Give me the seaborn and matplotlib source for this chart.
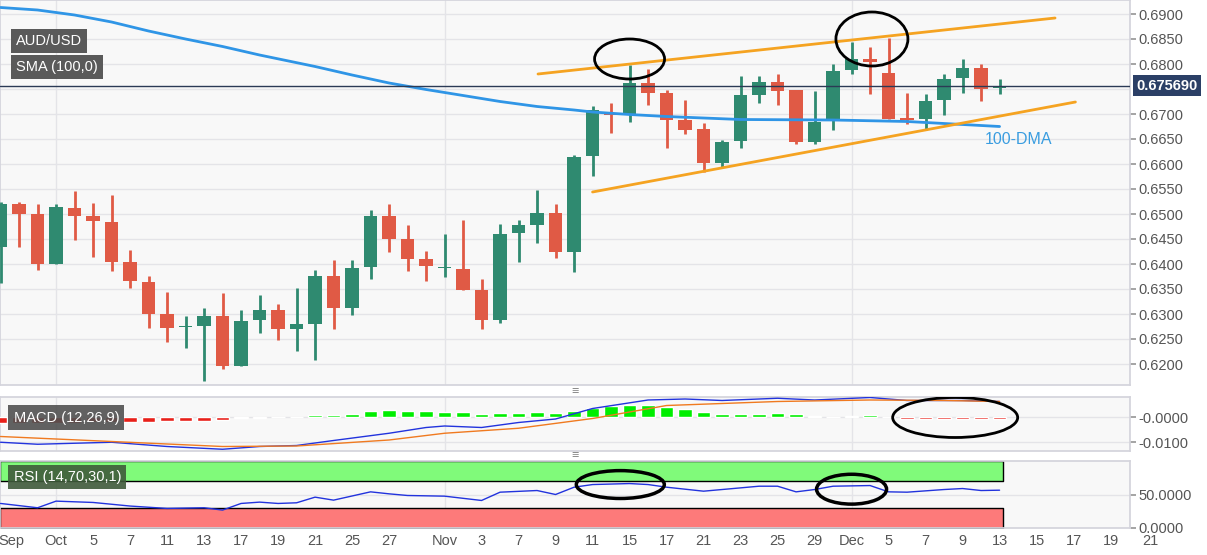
import numpy as np
import pandas as pd
import matplotlib
matplotlib.use("Agg")
import matplotlib.pyplot as plt
from matplotlib.patches import Ellipse
import seaborn as sns

opens  = [0.6435,0.6521,0.6499,0.6401,0.6513,0.6496,0.6485,0.6404,0.6365,0.6300,0.6274,0.6276,0.6297,0.6196,0.6288,0.6308,0.6271,0.6280,0.6376,0.6312,0.6395,0.6496,0.6451,0.6410,0.6392,
          0.6391,0.6349,0.6288,0.6463,0.6479,0.6503,0.6424,0.6616,0.6700,0.6701,0.6763,0.6743,0.6688,0.6671,0.6603,0.6646,0.6739,0.6765,0.6749,0.6645,0.6687,0.6788,0.6811,0.6783,0.6690,0.6690,0.6728,0.6773,0.6793,0.6752]
highs  = [0.6525,0.6525,0.6521,0.6520,0.6546,0.6523,0.6538,0.6429,0.6377,0.6344,0.6296,0.6313,0.6343,0.6309,0.6338,0.6321,0.6353,0.6389,0.6408,0.6409,0.6508,0.6520,0.6478,0.6426,0.6461,
          0.6489,0.6371,0.6480,0.6488,0.6548,0.6520,0.6618,0.6716,0.6723,0.6798,0.6790,0.6749,0.6728,0.6683,0.6649,0.6776,0.6776,0.6780,0.6749,0.6747,0.6800,0.6845,0.6835,0.6852,0.6743,0.6740,0.6780,0.6811,0.6800,0.6771]
lows   = [0.6362,0.6435,0.6389,0.6400,0.6449,0.6415,0.6387,0.6353,0.6273,0.6245,0.6233,0.6167,0.6191,0.6196,0.6263,0.6248,0.6227,0.6209,0.6271,0.6299,0.6371,0.6424,0.6387,0.6367,0.6375,
          0.6348,0.6271,0.6283,0.6405,0.6443,0.6413,0.6385,0.6576,0.6663,0.6685,0.6718,0.6633,0.6660,0.6585,0.6595,0.6633,0.6723,0.6718,0.6641,0.6640,0.6668,0.6781,0.6741,0.6690,0.6680,0.6668,0.6698,0.6743,0.6727,0.6740]
closes = [0.6521,0.6500,0.6401,0.6515,0.6496,0.6486,0.6405,0.6367,0.6300,0.6273,0.6276,0.6297,0.6196,0.6287,0.6309,0.6270,0.6279,0.6376,0.6312,0.6393,0.6496,0.6451,0.6411,0.6397,0.6393,
          0.6349,0.6288,0.6461,0.6478,0.6503,0.6424,0.6615,0.6708,0.6698,0.6763,0.6743,0.6689,0.6669,0.6603,0.6645,0.6738,0.6765,0.6747,0.6645,0.6685,0.6787,0.6811,0.6805,0.6690,0.6689,0.6726,0.6771,0.6793,0.6751,0.6757]

sma_idx = [0,2,4,6,8,10,12,14,17,19,21,23,25,27,29,31,32,34,36,40,45,49,54]
sma_val = [0.6913,0.6908,0.6898,0.6884,0.6866,0.6850,0.6835,0.6818,0.6795,0.6778,0.6762,0.6749,0.6737,0.6725,0.6715,0.6708,0.6704,0.6699,0.6695,0.6689,0.6688,0.6685,0.6675]

hist = [-0.0021,-0.0023,-0.0023,-0.0022,-0.0021,-0.0020,-0.0019,-0.0018,-0.0017,-0.0016,-0.0015,-0.0013,-0.0011,-0.0003,-0.0001,0.0,0.0002,0.0009,0.0010,0.0014,0.0026,0.0029,0.0027,0.0026,0.0023,
        0.0021,0.0013,0.0017,0.0019,0.0020,0.0019,0.0027,0.0036,0.0044,0.0051,0.0048,0.0041,0.0034,0.0021,0.0014,0.0014,0.0014,0.0016,0.0013,0.0005,0.0002,0.0006,0.0008,0.0,-0.0006,-0.0006,-0.0006,-0.0006,-0.0006,-0.0006]
macd_idx = [0,2,6,9,12,14,16,18,21,23,24,26,28,30,32,35,37,39,42,44,47,49,52,54]
macd_val = [-0.0100,-0.0108,-0.0100,-0.0117,-0.0128,-0.0117,-0.0113,-0.0093,-0.0064,-0.0041,-0.0035,-0.0041,-0.0021,-0.0007,0.0035,0.0069,0.0073,0.0067,0.0076,0.0069,0.0079,0.0067,0.0067,0.0063]
sig_idx = [0,6,12,16,21,24,28,32,36,42,47,51,54]
sig_val = [-0.0077,-0.0097,-0.0117,-0.0115,-0.0091,-0.0064,-0.0044,-0.0005,0.0047,0.0063,0.0069,0.0067,0.0063]

rsi_idx = [0,2,3,5,7,9,11,12,13,14,15,16,17,18,20,21,22,24,26,27,29,30,31,32,34,35,36,38,39,41,42,43,44,45,47,48,49,51,52,53,54]
rsi_val = [36.5,30,40,38,32.6,29,30,26.5,36.5,38.5,36.5,37.5,46,41.5,54,51,48.5,47.5,41,53.5,56,50,61,65,66.5,65,61,55,57.5,62.5,62.5,54,57.5,62.5,63.5,54,53.5,57.5,59,56,56.5]

tick_pos = [0.6,3,5,7,9,11,13,15,17,19,21,24,26,28,30,32,34,36,38,40,42,44,46,48,50,52,54,56,58,60]
tick_lab = ["Sep","Oct","5","7","11","13","17","19","21","25","27","Nov","3","7","9","11","15","17","21","23","25","29","Dec","5","7","9","13","15","17","19"]
price_ticks = [0.6200,0.6250,0.6300,0.6350,0.6400,0.6450,0.6500,0.6550,0.6600,0.6650,0.6700,0.6800,0.6850,0.6900]

sns.set_theme(style="white")
plt.rcParams['font.family'] = ['Liberation Sans', 'DejaVu Sans']
GREEN = "#2f8a70"; RED = "#e05a45"; BG = "#f8f8f8"; GRID = "#e4e4e8"; TXT = "#555555"
FW, FH = 1207, 555
fig = plt.figure(figsize=(12.07, 5.55), dpi=100, facecolor="white")
def axpos(top, bottom):
    return [0, 1 - bottom / FH, 1130 / FW, (bottom - top) / FH]
ax = fig.add_axes(axpos(0, 385))
axm = fig.add_axes(axpos(397, 451), sharex=ax)
axr = fig.add_axes(axpos(461, 528), sharex=ax)
XL = (-0.03, 61.05)

for a in (ax, axm, axr):
    a.set_facecolor(BG)
    for s in a.spines.values():
        s.set_color("#d4d4dc")
    for m in (3, 24, 46):
        a.axvline(m, color=GRID, lw=1, zorder=0)
    a.yaxis.tick_right()
    a.tick_params(axis="y", colors=TXT, labelsize=10.5, length=4, color="#999999", pad=2)
    a.tick_params(axis="x", length=0)

x = np.arange(len(opens))
o = np.array(opens); c = np.array(closes)
cols = [GREEN if cc >= oo else RED for oo, cc in zip(o, c)]
ax.vlines(x, lows, highs, colors=cols, lw=2, zorder=3)
body = np.maximum(np.abs(c - o), 0.00025)
ax.bar(x, body, bottom=np.minimum(o, c), width=0.72, color=cols, zorder=4, linewidth=0)
sns.lineplot(x=sma_idx, y=sma_val, ax=ax, color="#2f95e6", lw=2, zorder=5)
ax.plot([29.05, 57], [0.6780, 0.6892], color="#f5a321", lw=2, zorder=6)
ax.plot([32, 58.1], [0.6544, 0.6724], color="#f5a321", lw=2, zorder=6)
ax.axhline(0.67569, color="#2b3a55", lw=1, zorder=6)
ax.set_ylim(0.69 - 371 / 5000, 0.69 + 14 / 5000)
for v in np.arange(0.62, 0.6901, 0.005):
    ax.axhline(v, color=GRID, lw=1, zorder=0)
ax.set_yticks(price_ticks)
ax.set_yticklabels([f"{v:.4f}" for v in price_ticks])
ax.set_xlim(*XL)
ax.text(1.0055, 0.67569, "0.675690", transform=ax.get_yaxis_transform(), color="white", fontsize=10.5,
        fontweight="bold", va="center", ha="left",
        bbox=dict(boxstyle="square,pad=0.25", fc="#2b3f66", ec="none"))
ax.text(53.2, 0.6650, "100-DMA", color="#3a9de0", fontsize=11.5, va="center", ha="left")
ax.add_patch(Ellipse((34.0, 0.6810), 70 / 18.5, 0.0080, fill=False, ec="black", lw=2, zorder=8))
ax.add_patch(Ellipse((47.1, 0.6850), 72 / 18.5, 0.0108, fill=False, ec="black", lw=2, zorder=8))
ax.text(0.014, 0.893, "AUD/USD", transform=ax.transAxes, color="white", fontsize=10.5, va="center",
        bbox=dict(boxstyle="square,pad=0.35", fc="#5a5a5a", ec="none"), zorder=9)
ax.text(0.014, 0.826, "SMA (100,0)", transform=ax.transAxes, color="white", fontsize=10.5, va="center",
        bbox=dict(boxstyle="square,pad=0.35", fc="#5a5a5a", ec="none"), zorder=9)
plt.setp(ax.get_xticklabels(), visible=False)

# MACD
h = np.array(hist)
axm.bar(x, h, width=0.72, color=["#00ee00" if v > 0 else "#e8201a" for v in h], zorder=3)
sns.lineplot(x=macd_idx, y=macd_val, ax=axm, color="#2233dd", lw=1, zorder=4)
sns.lineplot(x=sig_idx, y=sig_val, ax=axm, color="#f07a20", lw=1, zorder=4)
axm.set_ylim(-0.0135, 0.0081)
axm.set_yticks([0, -0.01]); axm.set_yticklabels(["-0.0000", "-0.0100"])
for v in (0, -0.01):
    axm.axhline(v, color=GRID, lw=1, zorder=0)
axm.add_patch(Ellipse((51.6, -0.0001), 125 / 18.5, 0.016, fill=False, ec="black", lw=2, zorder=8))
axm.text(0.012, 0.62, "MACD (12,26,9)", transform=axm.transAxes, color="white", fontsize=10.5, va="center",
         bbox=dict(boxstyle="square,pad=0.35", fc="#505050", ec="none", alpha=0.9), zorder=9)
plt.setp(axm.get_xticklabels(), visible=False)

# RSI
axr.fill_between([-0.03, 54.2], 70, 100, color="#80fa7a", ec="black", lw=1, zorder=1)
axr.fill_between([-0.03, 54.2], 0, 30, color="#fd7a7a", ec="black", lw=1, zorder=1)
sns.lineplot(x=rsi_idx, y=rsi_val, ax=axr, color="#2233dd", lw=1, zorder=4)
axr.set_ylim(-0.5, 100.5)
axr.set_yticks([50, 0]); axr.set_yticklabels(["50.0000", "0.0000"])
axr.axhline(50, color=GRID, lw=1, zorder=0)
axr.add_patch(Ellipse((33.5, 65), 88 / 18.5, 42, fill=False, ec="black", lw=2.5, zorder=8))
axr.add_patch(Ellipse((46.0, 58), 70 / 18.5, 45, fill=False, ec="black", lw=2.5, zorder=8))
axr.text(0.012, 0.76, "RSI (14,70,30,1)", transform=axr.transAxes, color="white", fontsize=10.5, va="center",
         bbox=dict(boxstyle="square,pad=0.35", fc="#3f5a3a", ec="none", alpha=0.9), zorder=9)
axr.set_xticks(tick_pos)
axr.set_xticklabels(tick_lab)
axr.tick_params(axis="x", colors=TXT, labelsize=10.5, pad=4)
axr.set_xlim(*XL)
fig.text(1150 / FW, 1 - 541 / FH, "21", color=TXT, fontsize=10.5, ha="center", va="center")
for yy in (392, 456):
    fig.text(575 / FW, 1 - yy / FH, "≡", color="#888888", fontsize=9, ha="center", va="center")
for a in (ax, axm, axr):
    a.set_xlabel(""); a.set_ylabel("")
    if a.get_legend(): a.get_legend().remove()
fig.savefig("out.png", dpi=100, facecolor="white")
